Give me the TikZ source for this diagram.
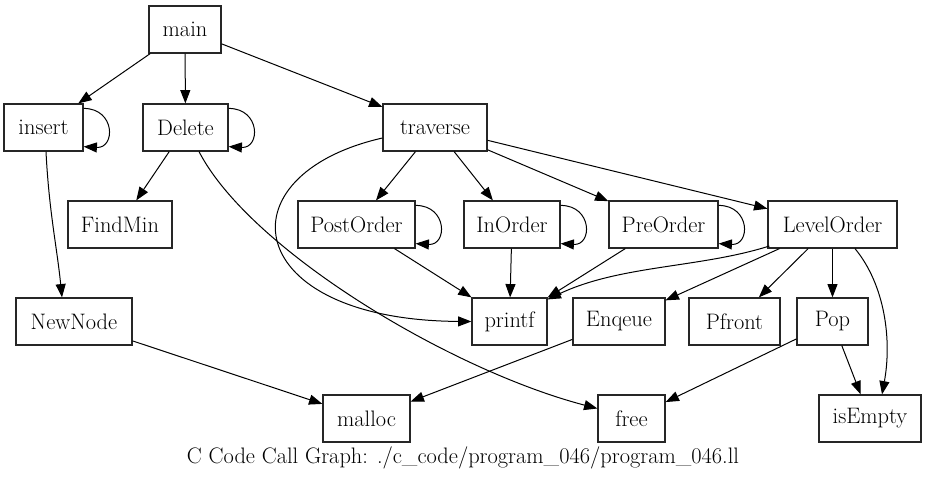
\documentclass[tikz,border=0pt]{standalone}
\usetikzlibrary{arrows.meta,calc}
\begin{document}
\begin{tikzpicture}[x=0.75pt,y=-0.75pt,
  box/.style={draw=black!85,line width=0.9pt,minimum height=35.25pt,inner sep=0pt,font=\fontsize{16.8}{20}\selectfont},
  arr/.style={-{Triangle[length=10pt,width=7.5pt]},line width=0.75pt},
  lbl/.style={font=\fontsize{16.8}{20}\selectfont,inner sep=0pt}]
\useasboundingbox (0,0) rectangle (926,480);
% nodes
\node[box,minimum width=54pt]    (main)       at (185,29.5)   {main};
\node[box,minimum width=59.25pt] (insert)     at (43.5,127.5) {insert};
\node[box,minimum width=63.75pt] (Delete)     at (185.5,127.5){Delete};
\node[box,minimum width=78pt]    (traverse)   at (435,127.5)  {traverse};
\node[box,minimum width=78pt]    (FindMin)    at (120,224.5)  {FindMin};
\node[box,minimum width=87.75pt] (PostOrder)  at (356.5,224.5){PostOrder};
\node[box,minimum width=72pt]    (InOrder)    at (512,224.5)  {InOrder};
\node[box,minimum width=81.75pt] (PreOrder)   at (663.5,224.5){PreOrder};
\node[box,minimum width=96.75pt] (LevelOrder) at (832.5,224.5){LevelOrder};
\node[box,minimum width=87pt]    (NewNode)    at (74,321.5)   {NewNode};
\node[box,minimum width=56.25pt] (printf)     at (509.5,321.5){printf};
\node[box,minimum width=69pt]    (Enqeue)     at (619,321.5)  {Enqeue};
\node[box,minimum width=68.25pt] (Pfront)     at (734.5,321.5){Pfront};
\node[box,minimum width=53.25pt] (Pop)        at (832.5,321.5){Pop};
\node[box,minimum width=65.25pt] (malloc)     at (366.5,418.5){malloc};
\node[box,minimum width=50.25pt] (free)       at (631.5,418.5){free};
\node[box,minimum width=76.5pt]  (isEmpty)    at (870,418.5)  {isEmpty};
\node[lbl] (caption) at (463,458) {C Code Call Graph: ./c\_code/program\_046/program\_046.ll};
% straight edges
\draw[arr] (main) -- (insert);
\draw[arr] (main) -- (Delete);
\draw[arr] (main) -- (traverse);
\draw[arr] (Delete) -- (FindMin);
\draw[arr] (traverse) -- (PostOrder);
\draw[arr] (traverse) -- (InOrder);
\draw[arr] (traverse) -- (PreOrder);
\draw[arr] (traverse) -- (LevelOrder);
\draw[arr] (PostOrder) -- (printf);
\draw[arr] (InOrder) -- (printf);
\draw[arr] (PreOrder) -- (printf);
\draw[arr] (LevelOrder) -- (Enqeue);
\draw[arr] (LevelOrder) -- (Pfront);
\draw[arr] (LevelOrder) -- (Pop);
\draw[arr] (NewNode) -- (malloc);
\draw[arr] (Enqeue) -- (malloc);
\draw[arr] (Pop) -- (free);
\draw[arr] (Pop) -- (isEmpty);
% self loops
\foreach \n in {insert,Delete,PostOrder,InOrder,PreOrder}{
  \draw[arr] ($(\n.north east)+(0,5)$) .. controls +(32,0) and +(32,2) .. ($(\n.south east)+(0,-5)$);
}
% curved edges
\draw[arr] ($(insert.south)+(2.5,0)$) .. controls +(3,60) and +(-5,-50) .. ($(NewNode.north)+(-12,0)$);
\draw[arr] ($(Delete.south)+(13.5,0)$) .. controls (250,250) and (450,370) .. ($(free.west)+(0,-10)$);
\draw[arr] ($(traverse.west)+(0,10.5)$) .. controls (220,175) and (240,320) .. (printf.west);
\draw[arr] ($(LevelOrder.west)+(2,21.5)$) .. controls (700,268) and (620,265) .. ($(printf.north east)+(0,2)$);
\draw[arr] ($(LevelOrder.south)+(22.5,0)$) .. controls (885,285) and (892,340) .. ($(isEmpty.north)+(12,0)$);
\end{tikzpicture}
\end{document}
